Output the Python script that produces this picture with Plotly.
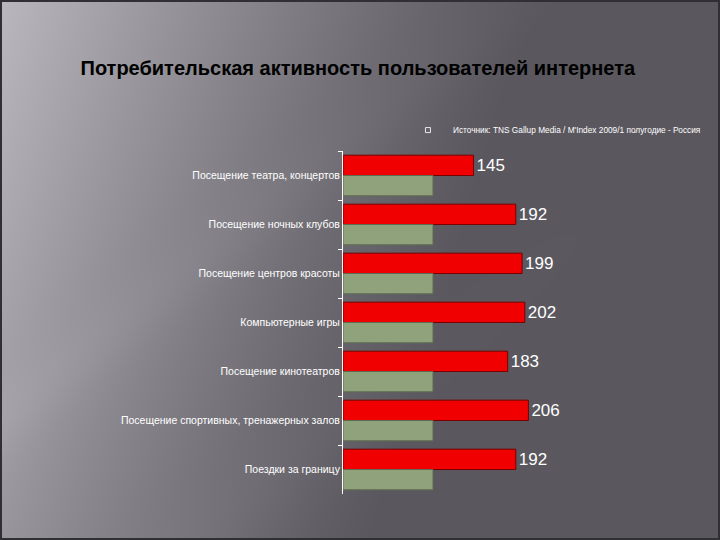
import base64, struct, zlib
import numpy as np
import plotly.graph_objects as go

categories = [
    "Посещение театра, концертов",
    "Посещение ночных клубов",
    "Посещение центров красоты",
    "Компьютерные игры",
    "Посещение кинотеатров",
    "Посещение спортивных, тренажерных залов",
    "Поездки за границу",
]
activity_index = [145, 192, 199, 202, 183, 206, 192]
baseline_index = [100, 100, 100, 100, 100, 100, 100]
title_text = "Потребительская активность пользователей интернета"
source_text = "Источник: TNS Gallup Media / M'Index 2009/1 полугодие - Россия"

W, H = 720, 540


def make_bg():
    ys, xs = np.mgrid[0:H, 0:W].astype(float)
    g = np.clip(1 - (xs + 0.30 * ys) / 540.0, 0, 1) ** 1.2
    L = 90 + (186 - 90) * g
    d = xs * 0.8 + ys
    L += 6 * np.exp(-((d - 420) / 40) ** 2) * (1 - xs / W)
    L += 5 * np.exp(-((d - 700) / 50) ** 2) * (1 - xs / W)
    img = np.zeros((H, W, 3), dtype=np.uint8)
    img[..., 0] = np.clip(L, 0, 255)
    img[..., 1] = np.clip(L - 2, 0, 255)
    img[..., 2] = np.clip(L + 4, 0, 255)
    img[:2, :] = (48, 47, 52)
    img[-2:, :] = (48, 47, 52)
    img[:, :2] = (48, 47, 52)
    img[:, -2:] = (48, 47, 52)
    raw = b"".join(b"\x00" + img[r].tobytes() for r in range(H))

    def chunk(t, data):
        c = struct.pack(">I", len(data)) + t + data
        return c + struct.pack(">I", zlib.crc32(t + data) & 0xFFFFFFFF)

    png = b"\x89PNG\r\n\x1a\n" + chunk(b"IHDR", struct.pack(">IIBBBBB", W, H, 8, 2, 0, 0, 0))
    png += chunk(b"IDAT", zlib.compress(raw, 9)) + chunk(b"IEND", b"")
    return "data:image/png;base64," + base64.b64encode(png).decode()


NARROW = "Liberation Sans Narrow, Arial Narrow, Liberation Sans, Arial, sans-serif"

fig = go.Figure()
fig.add_trace(go.Bar(
    y=categories, x=activity_index, orientation="h",
    marker=dict(color="#f00000", line=dict(color="#7a0000", width=1)),
    text=[str(v) for v in activity_index], textposition="outside",
    textfont=dict(color="white", size=17, family=NARROW),
    cliponaxis=False, showlegend=False, hoverinfo="skip",
))
fig.add_trace(go.Bar(
    y=categories, x=baseline_index, orientation="h",
    marker=dict(color="#8fa27c", line=dict(color="#5e6b50", width=1)),
    showlegend=False, hoverinfo="skip",
))
fig.add_trace(go.Scatter(
    x=[None], y=[None], mode="markers", name=source_text,
    marker=dict(symbol="square-open", size=5, color="#e8e8e8", line=dict(width=1)),
    showlegend=True, hoverinfo="skip",
))

fig.update_layout(
    width=W, height=H,
    margin=dict(l=343, r=107, t=151, b=46, autoexpand=False),
    paper_bgcolor="#6e6c72", plot_bgcolor="rgba(0,0,0,0)",
    barmode="group", bargap=0.17, bargroupgap=0,
    title=dict(text="<b>" + title_text + "</b>", x=0.497, xanchor="center", y=0.874, yanchor="middle",
               font=dict(family="Liberation Sans, Arial, sans-serif", size=20, color="black")),
    xaxis=dict(range=[0, 300], visible=False, fixedrange=True),
    yaxis=dict(autorange="reversed", showline=True, linecolor="white", linewidth=1,
               ticks="outside", ticklen=4, tickcolor="white", tickson="boundaries",
               showgrid=False, zeroline=False, automargin=False, fixedrange=True,
               tickfont=dict(family=NARROW, size=10.5, color="white")),
    legend=dict(x=0.222, y=1.061, xanchor="left", yanchor="middle", bgcolor="rgba(0,0,0,0)",
                font=dict(family=NARROW, size=8.3, color="white"),
                itemwidth=40),
    images=[dict(source=make_bg(), xref="paper", yref="paper", x=-343 / 270, y=1 + 151 / 343,
                 sizex=720 / 270, sizey=540 / 343, xanchor="left", yanchor="top",
                 sizing="stretch", layer="below")],
)

fig.write_html("out.html", config={"displayModeBar": False},
               post_script="document.body.style.margin='0';document.body.style.overflow='hidden';")
